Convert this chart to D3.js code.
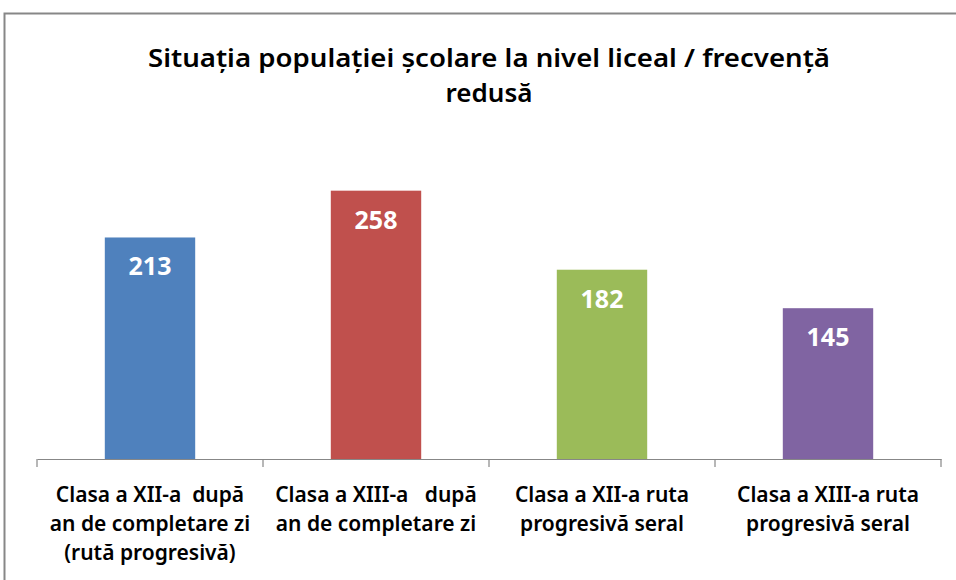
<!DOCTYPE html>
<html>
<head>
<meta charset="utf-8">
<script src="https://cdn.jsdelivr.net/npm/d3@7"></script>
<style>
  body { margin: 0; background: #fff; }
  svg { display: block; }
  text { white-space: pre; }
</style>
</head>
<body>
<svg width="956" height="580"></svg>
<script>
// data
const categories = ["c1", "c2", "c3", "c4"];
const labelLines = [
    ["Clasa a XII-a  după", "an de completare zi", "(rută progresivă)"],
    ["Clasa a XIII-a   după", "an de completare zi"],
    ["Clasa a XII-a ruta", "progresivă seral"],
    ["Clasa a XIII-a ruta", "progresivă seral"]
];
const values = [213, 258, 182, 145];
const barColors = ["#4F81BD", "#C0504D", "#9BBB59", "#8064A2"];
const titleLines = ["Situația populației școlare la nivel liceal / frecvență", "redusă"];

const svg = d3.select("svg");
const font = "'Noto Sans', 'Open Sans', sans-serif";

// chart border (Excel frame)
svg.append("rect")
    .attr("x", 4.5).attr("y", 13.5)
    .attr("width", 980).attr("height", 600)
    .attr("fill", "#fff")
    .attr("stroke", "#878787")
    .attr("stroke-width", 2);

let plotLeft = 37, plotRight = 941, plotTop = 147, plotBottom = 459;

const x = d3.scaleBand()
    .domain(categories)
    .range([plotLeft, plotRight])
    .paddingInner(0.6)
    .paddingOuter(0.3);

// band with no padding for the ticks
const xTick = d3.scaleBand()
    .domain(categories)
    .range([plotLeft, plotRight]);

const y = d3.scaleLinear()
    .domain([0, 300])
    .range([plotBottom, plotTop]);

// title
svg.append("text")
    .attr("x", (plotLeft + plotRight) / 2)
    .attr("text-anchor", "middle")
    .attr("font-family", font)
    .attr("font-size", "26px")
    .attr("font-weight", "600")
    .attr("fill", "#000")
    .selectAll("tspan")
    .data(titleLines)
    .enter().append("tspan")
        .attr("x", (plotLeft + plotRight) / 2)
        .attr("y", (d, i) => 67 + i * 35)
        .attr("textLength", (d, i) => i == 0 ? 682 : null)
        .attr("lengthAdjust", "spacingAndGlyphs")
        .text(d => d);

// bars
svg.selectAll("mybars")
    .data(categories)
    .enter()
    .append("rect")
        .attr("x", d => x(d))
        .attr("y", (d, i) => y(values[i]))
        .attr("width", x.bandwidth())
        .attr("height", (d, i) => plotBottom - y(values[i]))
        .attr("fill", (d, i) => barColors[i]);

// value labels
svg.selectAll("myvalues")
    .data(categories)
    .enter()
    .append("text")
        .attr("x", d => x(d) + x.bandwidth() / 2)
        .attr("y", (d, i) => y(values[i]) + 38)
        .attr("text-anchor", "middle")
        .attr("font-family", font)
        .attr("font-size", "25px")
        .attr("font-weight", "bold")
        .attr("fill", "#fff")
        .text((d, i) => values[i]);

// x axis
const xAxisCall = d3.axisBottom(xTick).tickSize(0).tickFormat("");
const gx = svg.append("g")
    .attr("transform", `translate(0, ${plotBottom})`)
    .call(xAxisCall);
gx.select(".domain").attr("stroke", "#878787").attr("stroke-width", 1.2);

// tick marks on category boundaries
const bounds = categories.map(d => xTick(d)).concat([plotRight]);
gx.selectAll("mytick")
    .data(bounds)
    .enter()
    .append("line")
        .attr("x1", d => d).attr("x2", d => d)
        .attr("y1", 0).attr("y2", 8)
        .attr("stroke", "#878787")
        .attr("stroke-width", 1.2);

// category labels
const labels = svg.selectAll("mylabels")
    .data(categories)
    .enter()
    .append("text")
        .attr("text-anchor", "middle")
        .attr("font-family", font)
        .attr("font-size", "21px")
        .attr("font-weight", "600")
        .attr("fill", "#000");

labels.each(function(d, i) {
    d3.select(this).selectAll("tspan")
        .data(labelLines[i])
        .enter().append("tspan")
            .attr("x", xTick(d) + xTick.bandwidth() / 2)
            .attr("y", (t, j) => 502 + j * 29)
            .text(t => t);
});
</script>
</body>
</html>
